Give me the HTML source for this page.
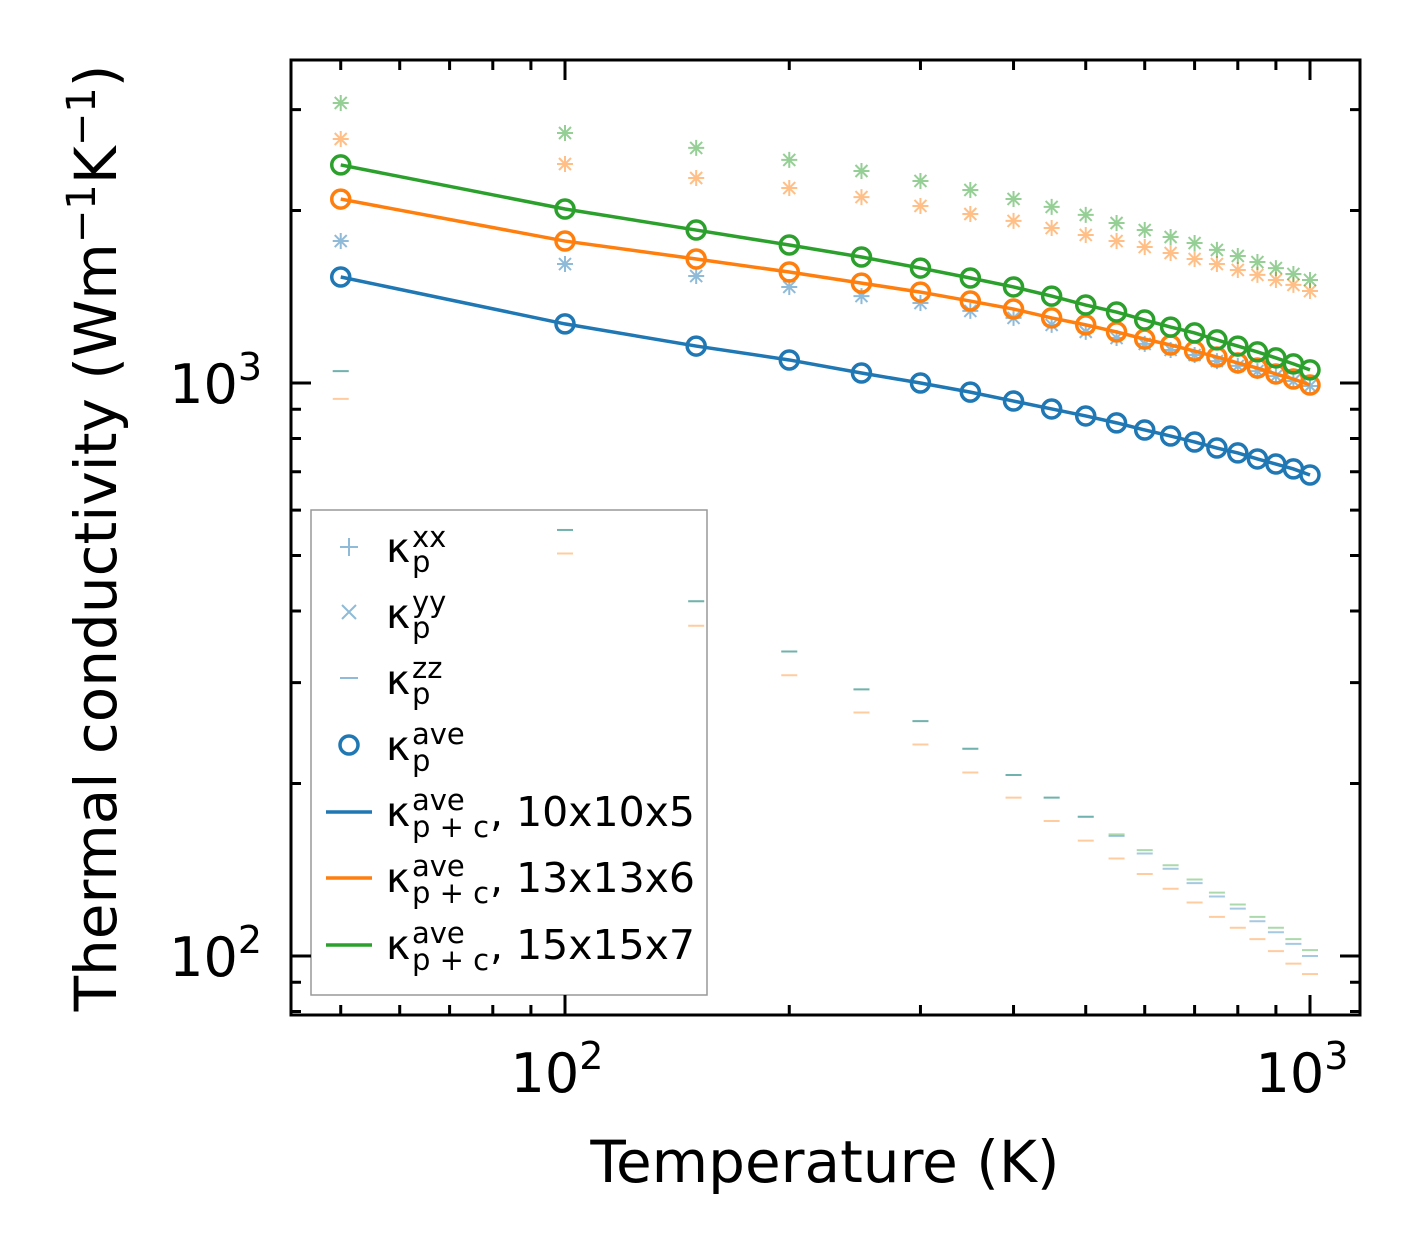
<!DOCTYPE html>
<html><head><meta charset="utf-8"><style>
body{margin:0;background:#fff}
svg{display:block;font-family:"DejaVu Sans","Liberation Sans",sans-serif}
</style></head><body>
<svg id="chart" width="1421" height="1254" viewBox="0 0 1421 1254" xmlns="http://www.w3.org/2000/svg">
<rect width="1421" height="1254" fill="#fff"/>
<g id="legend">
<rect x="311" y="510" width="396" height="485" fill="#fff" stroke="#999" stroke-width="1.5"/>
<g font-size="41" fill="#000">
<g><path d="M340 547h18M349 538v18" stroke="#1f77b4" stroke-opacity="0.5" stroke-width="2"/><text x="386" y="562">κ</text><text x="412" y="547" font-size="29">xx</text><text x="412" y="572" font-size="29">p</text></g>
<g><path d="M342 605l14 14M356 605l-14 14" stroke="#1f77b4" stroke-opacity="0.5" stroke-width="2"/><text x="386" y="628">κ</text><text x="412" y="612" font-size="29">yy</text><text x="412" y="638" font-size="29">p</text></g>
<g><path d="M340 678h18" stroke="#1f77b4" stroke-opacity="0.5" stroke-width="2"/><text x="386" y="694">κ</text><text x="412" y="678" font-size="29">zz</text><text x="412" y="704" font-size="29">p</text></g>
<g><circle cx="349" cy="745" r="9" fill="none" stroke="#1f77b4" stroke-width="3.5"/><text x="386" y="760">κ</text><text x="412" y="744" font-size="29">ave</text><text x="412" y="771" font-size="29">p</text></g>
<g><path d="M326 812h46" stroke="#1f77b4" stroke-width="3.5"/><text x="386" y="826">κ</text><text x="412" y="810" font-size="29">ave</text><text x="412" y="837" font-size="29">p + c</text><text x="490" y="826">, 10x10x5</text></g>
<g><path d="M326 878h46" stroke="#ff7f0e" stroke-width="3.5"/><text x="386" y="892">κ</text><text x="412" y="876" font-size="29">ave</text><text x="412" y="903" font-size="29">p + c</text><text x="490" y="892">, 13x13x6</text></g>
<g><path d="M326 945h46" stroke="#2ca02c" stroke-width="3.5"/><text x="386" y="959">κ</text><text x="412" y="943" font-size="29">ave</text><text x="412" y="970" font-size="29">p + c</text><text x="490" y="959">, 15x15x7</text></g>
</g></g>
<g id="marks"></g>
<g id="ticks"></g>
<rect x="291" y="60" width="1069" height="955" fill="none" stroke="#000" stroke-width="3"/>
<text x="825" y="1182" font-size="58" text-anchor="middle">Temperature (K)</text>
<text transform="translate(116,538) rotate(-90)" font-size="58" text-anchor="middle">Thermal conductivity (Wm<tspan dy="-21" font-size="40">−1</tspan><tspan dy="21">K</tspan><tspan dy="-21" font-size="40">−1</tspan><tspan dy="21">)</tspan></text>
</svg>
<script>
const temps=[50,100,150,200,250,300,350,400,450,500,550,600,650,700,750,800,850,900,950,1000];
const aveBlue=[1531,1268,1160,1097,1041,1000,964,930,901,876,852,828,808,789,770,755,737,722,708,691];
const aveOrange=[2094,1769,1646,1562,1494,1441,1390,1346,1299,1263,1228,1193,1165,1137,1110,1084,1062,1037,1016,992];
const aveGreen=[2402,2012,1849,1741,1659,1587,1525,1471,1418,1368,1330,1288,1252,1223,1189,1160,1133,1106,1080,1054];
const xyBlue=[1769,1613,1537,1471,1418,1379,1336,1299,1263,1228,1198,1170,1142,1119,1092,1071,1049,1028,1008,988];
const xyOrange=[2666,2411,2279,2189,2111,2037,1972,1918,1864,1813,1769,1727,1686,1646,1613,1575,1544,1513,1483,1447];
const xyGreen=[3081,2731,2572,2451,2344,2252,2172,2095,2029,1965,1902,1849,1798,1755,1707,1666,1626,1587,1550,1513];
const zzBlue=[1049,554,416,340,292,257,230,207,189,175,162,151,142,134,127,121,115,110,105,100];
const zzOrange=[938,504,377,309,266,234,209,189,172,159,148,139,131,124,117,112,107,102,97,93];
const zzGreen=[1049,554,416,340,292,257,230,207,189,175,163,153,144,136,129,123,117,112,107,102.4];
const xMajor=[100,1000];
const xMajorLabels=["2","3"];
const yMajor=[100,1000];
const yMajorLabels=["2","3"];
const NS="http://www.w3.org/2000/svg";
function X(v){return 565+(Math.log10(v)-2)*745;}
function Y(v){return 383-(Math.log10(v)-3)*573;}
const marks=document.getElementById('marks'),ticks=document.getElementById('ticks');
function mk(tag,attrs,parent){const e=document.createElementNS(NS,tag);for(const k in attrs)e.setAttribute(k,attrs[k]);parent.appendChild(e);return e;}
const C={blue:'#1f77b4',orange:'#ff7f0e',green:'#2ca02c'};
function zz(vals,col,name){vals.forEach((v,i)=>{const x=X(temps[i]),y=Y(v);
const e=mk('path',{d:`M${x-8} ${y}h16`,stroke:col,'stroke-opacity':0.4,'stroke-width':2},marks);

});}
function star(vals,col,name){vals.forEach((v,i)=>{const x=X(temps[i]),y=Y(v);
const e=mk('path',{d:`M${x-8} ${y}h16M${x} ${y-8}v16M${x-6} ${y-6}l12 12M${x+6} ${y-6}l-12 12`,stroke:col,'stroke-opacity':0.5,'stroke-width':2},marks);

});}
function line(vals,col,name){const e=mk('polyline',{points:vals.map((v,i)=>X(temps[i])+','+Y(v)).join(' '),fill:'none',stroke:col,'stroke-width':3.5},marks);

}
function circ(vals,col,name){vals.forEach((v,i)=>{const e=mk('circle',{cx:X(temps[i]),cy:Y(v),r:9,fill:'none',stroke:col,'stroke-width':3.5},marks);

});}
zz(zzOrange,C.orange,'zz-orange-point');zz(zzGreen,C.green,'zz-green-point');zz(zzBlue,C.blue,'zz-blue-point');
star(xyBlue,C.blue,'xy-blue-point');star(xyOrange,C.orange,'xy-orange-point');star(xyGreen,C.green,'xy-green-point');
line(aveBlue,C.blue,'line-10x10x5');line(aveOrange,C.orange,'line-13x13x6');line(aveGreen,C.green,'line-15x15x7');
circ(aveBlue,C.blue,'ave-blue-point');circ(aveOrange,C.orange,'ave-orange-point');circ(aveGreen,C.green,'ave-green-point');
for(let d=10;d<=1000;d*=10)for(let k=1;k<10;k++){const v=d*k,x=X(v);if(x<293||x>1358)continue;const L=k===1?20:10;
const t=mk('path',{d:`M${x} 1015v${-L}M${x} 60v${L}`,stroke:'#000','stroke-width':3},ticks);

}
for(let d=10;d<=1000;d*=10)for(let k=1;k<10;k++){const v=d*k,y=Y(v);if(y<62||y>1013)continue;const L=k===1?20:10;
const t=mk('path',{d:`M291 ${y}h${L}M1360 ${y}h${-L}`,stroke:'#000','stroke-width':3},ticks);

}
xMajor.forEach((v,i)=>{const t=mk('text',{x:X(v)-8,y:1092,'font-size':54,'text-anchor':'middle'},ticks);t.innerHTML='10<tspan dy="-23" font-size="38">'+xMajorLabels[i]+'</tspan>';

});
yMajor.forEach((v,i)=>{const t=mk('text',{x:262,y:Y(v)+20,'font-size':54,'text-anchor':'end'},ticks);t.innerHTML='10<tspan dy="-23" font-size="38">'+yMajorLabels[i]+'</tspan>';

});
</script>
</body></html>
